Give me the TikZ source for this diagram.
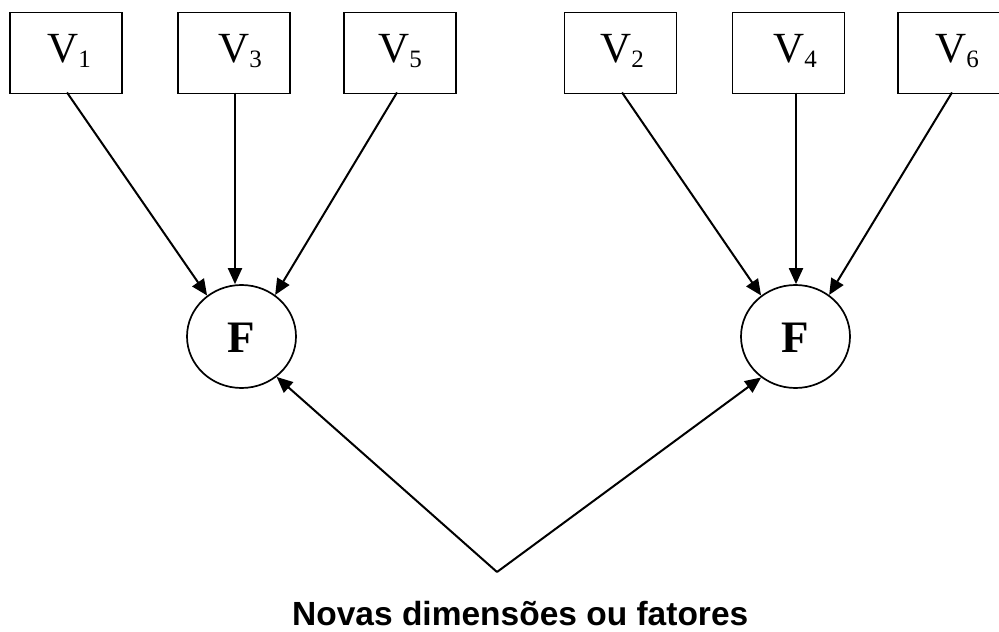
\documentclass[tikz,border=0pt]{standalone}
\usepackage{fontspec}
\setmainfont{Liberation Serif}
\newfontfamily\arialfont{Liberation Sans}
\usetikzlibrary{arrows.meta,shapes.geometric}
\tikzset{
  vbox/.style={draw, line width=1.7pt, minimum width=112pt, minimum height=81pt, inner sep=0pt, anchor=north west},
  vlab/.style={anchor=base west, inner sep=0pt, font=\fontsize{43}{43}\selectfont},
  fnode/.style={draw, ellipse, line width=1.7pt, minimum width=109pt, minimum height=103pt, inner sep=0pt},
  flab/.style={anchor=base, inner sep=0pt, font=\fontsize{45}{45}\selectfont\bfseries},
  arr/.style={line width=2pt, -{Triangle[length=16pt,width=14pt]}},
}
\newcommand{\vsub}[1]{\raisebox{-5pt}{\fontsize{25}{25}\selectfont #1}}
\begin{document}
\begin{tikzpicture}[x=1pt,y=-1pt]
\clip (0,0) rectangle (999,632);
\fill[white] (0,0) rectangle (999,632);
% boxes
\node[vbox] (b1) at (9,11.5) {};
\node[vbox] (b3) at (177,11.5) {};
\node[vbox] (b5) at (343,11.5) {};
\node[vbox] (b2) at (563.5,11.5) {};
\node[vbox] (b4) at (731.5,11.5) {};
\node[vbox] (b6) at (897,11.5) {};
% labels
\node[vlab] (t1) at (47,62) {V\vsub{1}};
\node[vlab] (t3) at (218,62) {V\vsub{3}};
\node[vlab] (t5) at (378,62) {V\vsub{5}};
\node[vlab] (t2) at (600,62) {V\vsub{2}};
\node[vlab] (t4) at (773,62) {V\vsub{4}};
\node[vlab] (t6) at (935,62) {V\vsub{6}};
% factors
\node[fnode] (f1) at (241.5,336.5) {};
\node[fnode] (f2) at (795.5,336.5) {};
\node[flab] at (241.5,352) {F};
\node[flab] at (795.5,352) {F};
% connectors
\coordinate (s1) at (67,92.5);
\coordinate (s3) at (235,92.5);
\coordinate (s5) at (397,92.5);
\coordinate (s2) at (622,92.5);
\coordinate (s4) at (796,92.5);
\coordinate (s6) at (952,92.5);
\draw[arr] (s1) -- (f1.130);
\draw[arr] (s3) -- (s3 |- f1.north);
\draw[arr] (s5) -- (f1.51);
\draw[arr] (s2) -- (f2.130);
\draw[arr] (s4) -- (s4 |- f2.north);
\draw[arr] (s6) -- (f2.51);
\coordinate (apex) at (497,572);
\draw[arr] (apex) -- (f1.-49);
\draw[arr] (apex) -- (f2.230);
% caption
\node[anchor=base west, inner sep=0pt, font=\arialfont\bfseries\fontsize{33.5}{33.5}\selectfont] (cap) at (292,625) {Novas dimensões ou fatores};
\end{tikzpicture}
\end{document}
